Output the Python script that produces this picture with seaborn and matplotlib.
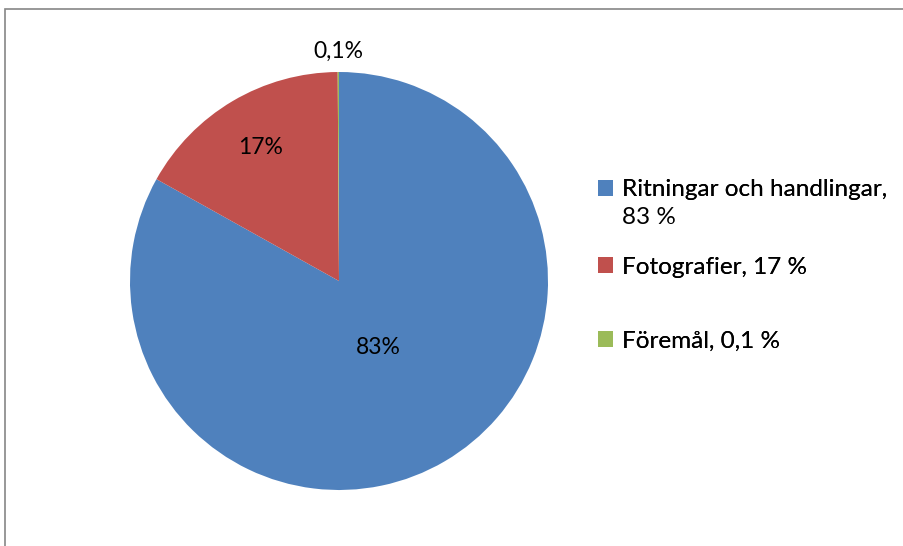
import matplotlib
matplotlib.use('Agg')

import numpy as np
import seaborn as sns
import matplotlib.pyplot as plt
from matplotlib.patches import Rectangle

# data
categories = ['Ritningar och handlingar,\n83 %', 'Fotografier, 17 %', 'Föremål, 0,1 %']
shares = [83.1, 16.8, 0.1]
pct_labels = ['83%', '17%', '0,1%']
colors = ['#4F81BD', '#C0504D', '#9BBB59']

W, H = 904, 546


def main():
    sns.set_theme(style='white')
    plt.rcParams['font.family'] = ['Lato', 'DejaVu Sans']
    plt.rcParams['text.color'] = 'black'

    fig = plt.figure(figsize=(W / 100, H / 100), dpi=100)
    # pie centre (339, 281) px, radius 209 px
    cx, cy, r = 339, 281, 209
    ax = fig.add_axes([(cx - r) / W, (H - cy - r) / H, 2 * r / W, 2 * r / H])

    wedges, _ = ax.pie(shares, colors=colors, startangle=90, counterclock=False,
                       radius=1, wedgeprops=dict(linewidth=0))
    ax.set_xlim(-1, 1)
    ax.set_ylim(-1, 1)
    ax.set_aspect('equal')
    ax.axis('off')

    # data labels at per-slice distances, like the original
    dists = [0.37, 0.74, 1.10]
    for w, lab, d in zip(wedges, pct_labels, dists):
        mid = np.deg2rad((w.theta1 + w.theta2) / 2)
        ax.text(d * np.cos(mid), d * np.sin(mid), lab, ha='center', va='center',
                fontsize=16.5, color='black')

    # legend, one entry per box so the uneven spacing can be kept;
    # the square sits on the first line of a wrapped label
    anchors = [190, 267, 341]
    line_h = 28
    for w, lab, y in zip(wedges, categories, anchors):
        lines = lab.split('\n')
        leg = fig.legend([w], [lines[0]], loc='center left',
                         bbox_to_anchor=(598 / W, 1 - y / H), frameon=False,
                         fontsize=17.5, handlelength=0.6, handleheight=0.6,
                         handletextpad=0.4, borderpad=0, borderaxespad=0,
                         labelcolor='black')
        fig.add_artist(leg)
        for i, extra in enumerate(lines[1:], start=1):
            fig.text(622 / W, 1 - (y + i * line_h) / H, extra, fontsize=17.5,
                     ha='left', va='center', color='black')

    # chart area frame (only top and left edges visible in the crop)
    fig.add_artist(Rectangle((5.5 / W, -0.2), 1.2, 1.2 - 8.5 / H,
                             transform=fig.transFigure, fill=False,
                             edgecolor='#868686', linewidth=1.2))

    plt.savefig('out.png', dpi=100)


main()
